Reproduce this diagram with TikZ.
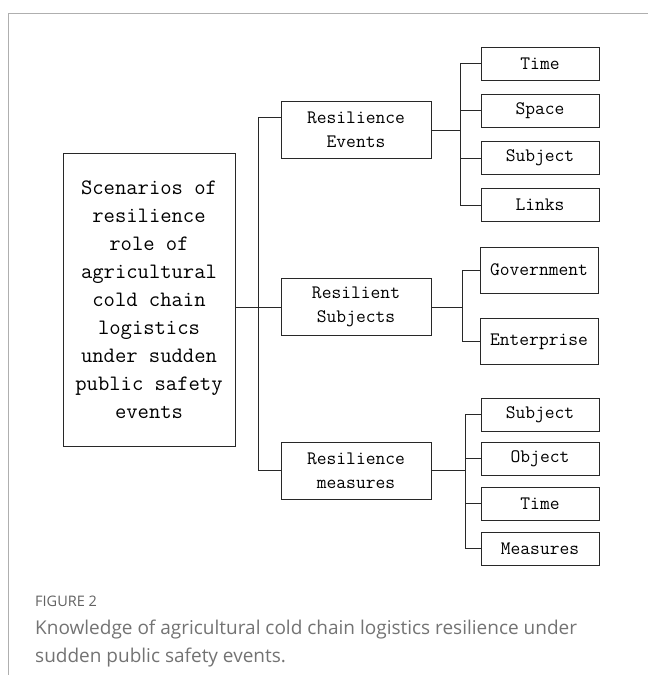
\documentclass[tikz,border=0pt]{standalone}
\usepackage{fontspec}
\newfontfamily\capfont{Open Sans}
\usetikzlibrary{positioning, calc}
\definecolor{linegray}{RGB}{40, 40, 40}
\definecolor{framegray}{RGB}{175, 175, 175}
\definecolor{capgray}{RGB}{115, 115, 115}

\begin{document}
\begin{tikzpicture}[x=1pt, y=-1pt,
        topbox/.style={draw=linegray, line width=1pt, align=center, inner sep=0pt,
            minimum width=172pt, minimum height=293pt,
            font=\ttfamily\fontsize{22}{28}\selectfont},
        midbox/.style={draw=linegray, line width=1pt, align=center, inner sep=0pt,
            minimum width=150pt, minimum height=57pt,
            font=\ttfamily\fontsize{19}{24}\selectfont},
        leafbox/.style={draw=linegray, line width=1pt, align=center, inner sep=0pt,
            minimum width=118pt, minimum height=33pt,
            font=\ttfamily\fontsize{19}{24}\selectfont},
        link/.style={draw=linegray, line width=0.9pt},
        captxt/.style={anchor=base west, inner sep=0pt, text=capgray}
      ]
        \useasboundingbox (0,0) rectangle (648,675);
        \draw[framegray, line width=1pt] (648,13) -- (8,13) -- (8,675);

        % root
        \node[topbox] (root) at (149,299.5) {Scenarios of\\resilience\\role of\\agricultural\\cold chain\\logistics\\under sudden\\public safety\\events};

        % second level
        \node[midbox] (ev) at (356,130) {Resilience\\Events};
        \node[midbox] (sj) at (356,307) {Resilient\\Subjects};
        \node[midbox] (ms) at (356,470.5) {Resilience\\measures};

        % leaves
        \node[leafbox] (ev1) at (540,63.5)  {Time};
        \node[leafbox] (ev2) at (540,110.5) {Space};
        \node[leafbox] (ev3) at (540,158)   {Subject};
        \node[leafbox] (ev4) at (540,205)   {Links};
        \node[leafbox, minimum height=46pt] (sj1) at (539,270)   {Government};
        \node[leafbox, minimum height=46pt] (sj2) at (539,341.5) {Enterprise};
        \node[leafbox] (ms1) at (540,414.5) {Subject};
        \node[leafbox] (ms2) at (540,458.5) {Object};
        \node[leafbox] (ms3) at (540,503.5) {Time};
        \node[leafbox] (ms4) at (540,548.5) {Measures};

        % connectors
        \draw[link] (root.east |- sj.west) -- (sj.west);
        \draw[link] ([yshift=13pt]ev.west) -- ++(-22,0) |- (ms.west);
        \foreach \k in {1,...,4} { \draw[link] (ev.east) -- ++(29,0) |- (ev\k.west); }
        \foreach \k in {1,2} { \draw[link] (sj.east) -- ++(31,0) |- (sj\k.west); }
        \foreach \k in {1,...,4} { \draw[link] (ms.east) -- ++(34,0) |- (ms\k.west); }

        % caption
        \node[captxt, text=capgray!85!black, font=\capfont\fontsize{14.5}{16}\selectfont] (fig) at (35,606) {FIGURE 2};
        \node[captxt, font=\capfont\fontsize{19}{28}\selectfont] (cap1) at (35,634) {Knowledge of agricultural cold chain logistics resilience under};
        \node[captxt, font=\capfont\fontsize{19}{28}\selectfont] (cap2) at (35,662) {sudden public safety events.};
      \end{tikzpicture}
\end{document}
